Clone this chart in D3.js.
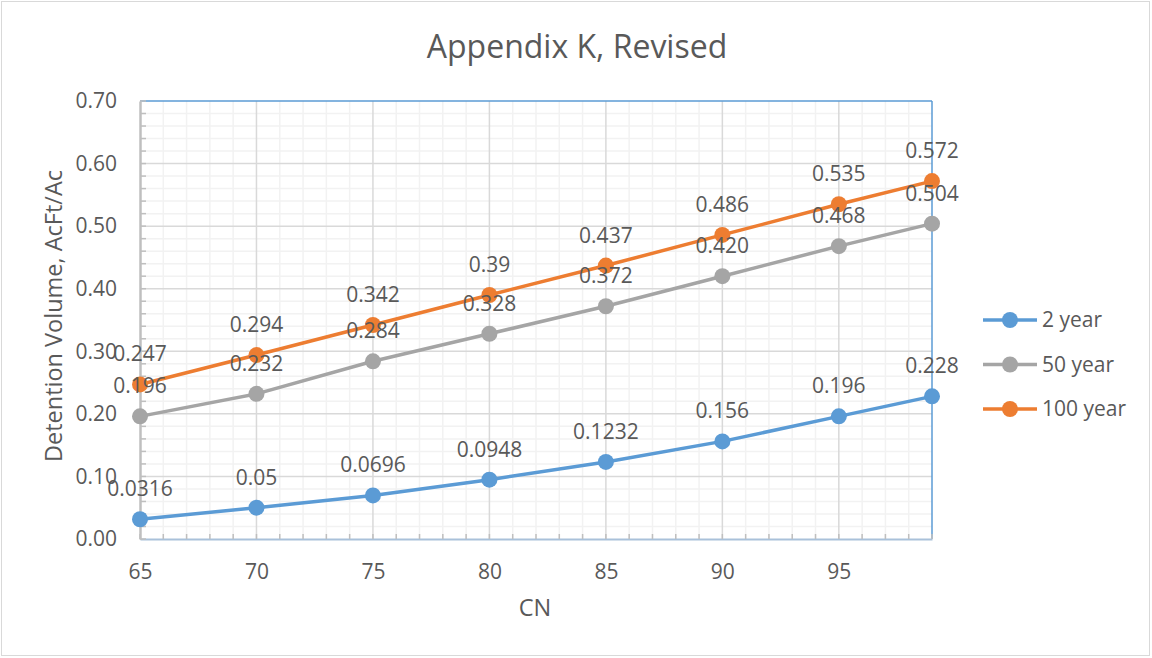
<!DOCTYPE html>
<html><head><meta charset="utf-8">
<script src="https://cdn.jsdelivr.net/npm/d3@7/dist/d3.min.js"></script>
<style>body{margin:0;background:#fff}svg{display:block}text{font-family:"Open Sans",sans-serif;fill:#595959}</style>
</head><body>
<script>
const cn = [65, 70, 75, 80, 85, 90, 95, 99];
const year2 = [0.0316, 0.05, 0.0696, 0.0948, 0.1232, 0.156, 0.196, 0.228];
const year50 = [0.196, 0.232, 0.284, 0.328, 0.372, 0.420, 0.468, 0.504];
const year100 = [0.247, 0.294, 0.342, 0.39, 0.437, 0.486, 0.535, 0.572];
const xTicks = [65, 70, 75, 80, 85, 90, 95];
const yTicks = [0, 0.1, 0.2, 0.3, 0.4, 0.5, 0.6, 0.7];
const seriesNames = ["2 year", "50 year", "100 year"];
const colors = ["#5B9BD5", "#A5A5A5", "#ED7D31"];
const labelFormats = [d => String(d), d3.format(".3f"), d => String(d)];
const series = [year2, year50, year100];

(function () {
const W = 1152, H = 658;
const FS = 21;
const svg = d3.select("body").append("svg").attr("width", W).attr("height", H);
svg.append("rect").attr("x", 1.5).attr("y", 1.5).attr("width", W - 4).attr("height", H - 4)
  .attr("fill", "#fff").attr("stroke", "#D9D9D9");

const pL = 140, pR = 932, pT = 101, pB = 539;
const x = d3.scaleLinear().domain([65, 99]).range([pL, pR]);
const y = d3.scaleLinear().domain([0, 0.7]).range([pB, pT]);

const xMinor = d3.range(66, 99, 1).filter(v => v % 5 !== 0);
const yMinor = d3.range(1, 35).map(i => i * 0.02).filter((v, i) => (i + 1) % 5 !== 0);
const g = svg.append("g");
g.selectAll(".xm").data(xMinor).join("line").attr("x1", d => x(d)).attr("x2", d => x(d))
  .attr("y1", pT).attr("y2", pB).attr("stroke", "#F2F2F2").attr("stroke-width", 1.5);
g.selectAll(".ym").data(yMinor).join("line").attr("y1", d => y(d)).attr("y2", d => y(d))
  .attr("x1", pL).attr("x2", pR).attr("stroke", "#F2F2F2").attr("stroke-width", 1.5);
g.selectAll(".xM").data(xTicks.slice(1)).join("line").attr("x1", d => x(d)).attr("x2", d => x(d))
  .attr("y1", pT).attr("y2", pB).attr("stroke", "#D9D9D9").attr("stroke-width", 1.5);
g.selectAll(".yM").data(yTicks.slice(1, -1)).join("line").attr("y1", d => y(d)).attr("y2", d => y(d))
  .attr("x1", pL).attr("x2", pR).attr("stroke", "#D9D9D9").attr("stroke-width", 1.5);

svg.append("line").attr("x1", pL).attr("x2", pR).attr("y1", pT).attr("y2", pT).attr("stroke", "#5B9BD5").attr("stroke-width", 1.5);
svg.append("line").attr("x1", pR).attr("x2", pR).attr("y1", pT).attr("y2", pB).attr("stroke", "#5B9BD5").attr("stroke-width", 1.5);

const xAxis = d3.axisBottom(x).tickValues(xTicks).tickSize(0).tickPadding(25).tickFormat(d3.format("d"));
const gx = svg.append("g").attr("transform", `translate(0,${pB})`).call(xAxis);
gx.select(".domain").attr("stroke", "#A9C1DA").attr("stroke-width", 2);
gx.selectAll("text").attr("font-size", FS).style("fill", "#595959").style("font-family", "Open Sans");
svg.selectAll(".xt").data(d3.range(65, 100)).join("line").attr("x1", d => x(d)).attr("x2", d => x(d))
  .attr("y1", pB).attr("y2", pB - 5).attr("stroke", "#BFBFBF").attr("stroke-width", 1.5);

const yAxis = d3.axisLeft(y).tickValues(yTicks).tickSize(0).tickPadding(23).tickFormat(d3.format(".2f"));
const gy = svg.append("g").attr("transform", `translate(${pL},0)`).call(yAxis);
gy.select(".domain").attr("stroke", "#BFBFBF").attr("stroke-width", 2.5);
gy.selectAll("text").attr("font-size", FS).style("fill", "#595959").style("font-family", "Open Sans");
svg.selectAll(".yt").data(d3.range(0, 36).map(i => i * 0.02)).join("line").attr("y1", d => y(d)).attr("y2", d => y(d))
  .attr("x1", pL).attr("x2", pL + 6).attr("stroke", "#BFBFBF").attr("stroke-width", 1.5);

const line = d3.line().x((d, i) => x(cn[i])).y(d => y(d));
series.forEach((s, k) => {
  svg.append("path").datum(s).attr("d", line).attr("fill", "none")
    .attr("stroke", colors[k]).attr("stroke-width", 3.5).attr("stroke-linejoin", "round");
  svg.append("g").selectAll("circle").data(s).join("circle")
    .attr("cx", (d, i) => x(cn[i])).attr("cy", d => y(d)).attr("r", 8).attr("fill", colors[k]);
});
series.forEach((s, k) => {
  svg.append("g").selectAll("text").data(s).join("text")
    .attr("x", (d, i) => x(cn[i])).attr("y", d => y(d) - 23)
    .attr("text-anchor", "middle").attr("font-size", FS).text(d => labelFormats[k](d));
});

svg.append("text").attr("x", 577).attr("y", 58).attr("text-anchor", "middle").attr("font-size", 32).text("Appendix K, Revised");
svg.append("text").attr("x", 535).attr("y", 616).attr("text-anchor", "middle").attr("font-size", 23.5).text("CN");
svg.append("text").attr("transform", "translate(62,316) rotate(-90)").attr("text-anchor", "middle").attr("font-size", 23.5).text("Detention Volume, AcFt/Ac");

const lg = svg.append("g").selectAll("g").data(seriesNames).join("g")
  .attr("transform", (d, i) => `translate(983,${320 + i * 44.5})`);
lg.append("line").attr("x1", 0).attr("x2", 54).attr("stroke", (d, i) => colors[i]).attr("stroke-width", 3.5);
lg.append("circle").attr("cx", 27).attr("r", 8).attr("fill", (d, i) => colors[i]);
lg.append("text").attr("x", 59).attr("dy", "0.35em").attr("font-size", FS).text(d => d);
})();
</script>
</body></html>
